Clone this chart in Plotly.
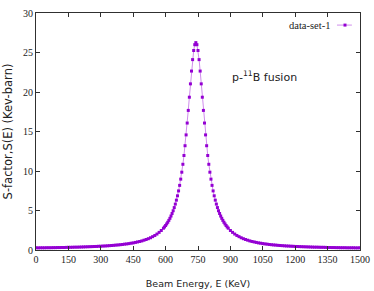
import plotly.graph_objects as go

# Beam energy grid (keV)
energy_left = list(range(0, 591, 10))
energy_peak = list(range(595, 886, 5))
energy_right = list(range(890, 1501, 10))

# S-factor values (keV-barn)
s_left = [0.27, 0.27, 0.28, 0.28, 0.28, 0.29, 0.29, 0.29, 0.30, 0.30,
          0.31, 0.31, 0.32, 0.32, 0.33, 0.34, 0.34, 0.35, 0.36, 0.36,
          0.37, 0.38, 0.39, 0.40, 0.41, 0.42, 0.43, 0.44, 0.45, 0.47,
          0.48, 0.50, 0.51, 0.53, 0.55, 0.57, 0.59, 0.62, 0.64, 0.67,
          0.70, 0.74, 0.77, 0.81, 0.86, 0.90, 0.96, 1.02, 1.08, 1.15,
          1.24, 1.33, 1.43, 1.55, 1.69, 1.84, 2.02, 2.23, 2.47, 2.76]
s_peak = [2.92, 3.10, 3.30, 3.51, 3.75, 4.01, 4.30, 4.62, 4.97, 5.37,
          5.81, 6.31, 6.86, 7.48, 8.18, 8.97, 9.85, 10.85, 11.96, 13.20,
          14.57, 16.07, 17.67, 19.34, 21.03, 22.65, 24.10, 25.25, 25.99, 26.25,
          25.99, 25.25, 24.10, 22.65, 21.03, 19.34, 17.67, 16.07, 14.57, 13.20,
          11.96, 10.85, 9.85, 8.97, 8.18, 7.48, 6.86, 6.31, 5.81, 5.37,
          4.97, 4.62, 4.30, 4.01, 3.75, 3.51, 3.30, 3.10, 2.92]
s_right = [2.76, 2.47, 2.23, 2.02, 1.84, 1.69, 1.55, 1.43, 1.33, 1.24,
           1.15, 1.08, 1.02, 0.96, 0.90, 0.86, 0.81, 0.77, 0.74, 0.70,
           0.67, 0.64, 0.62, 0.59, 0.57, 0.55, 0.53, 0.51, 0.50, 0.48,
           0.47, 0.45, 0.44, 0.43, 0.42, 0.41, 0.40, 0.39, 0.38, 0.37,
           0.36, 0.36, 0.35, 0.34, 0.34, 0.33, 0.32, 0.32, 0.31, 0.31,
           0.30, 0.30, 0.29, 0.29, 0.29, 0.28, 0.28, 0.28, 0.28, 0.27,
           0.27, 0.27]

energy = energy_left + energy_peak + energy_right
s_factor = s_left + s_peak + s_right

x_ticks = [0, 150, 300, 450, 600, 750, 900, 1050, 1200, 1350, 1500]
y_ticks = [0, 5, 10, 15, 20, 25, 30]

series_name = "data-set-1"
note_text = "p-<sup>11</sup>B fusion"
x_title = "Beam Energy, E (KeV)"
y_title = "S-factor,S(E) (Kev-barn)"

PURPLE = "#9400D3"
AXIS = "#303030"

fig = go.Figure()
fig.add_trace(go.Scatter(
    x=energy, y=s_factor, mode="lines+markers", name=series_name,
    line=dict(color="rgba(148,0,211,0.45)", width=1),
    marker=dict(symbol="square", size=3, color=PURPLE, line=dict(width=0)),
    showlegend=False,
))

tickfont = dict(family="Liberation Serif", size=10, color="#222")
fig.update_xaxes(
    range=[0, 1500], tickvals=x_ticks, ticks="inside", ticklen=4, tickwidth=1,
    tickcolor=AXIS, showline=True, linecolor=AXIS, linewidth=1, mirror="ticks",
    showgrid=False, zeroline=False, tickfont=tickfont, automargin=False,
    title=dict(text=x_title, font=dict(family="DejaVu Sans", size=9.5, color="#222"), standoff=16),
)
fig.update_yaxes(
    range=[0, 30], tickvals=y_ticks, ticks="inside", ticklen=4, tickwidth=1,
    tickcolor=AXIS, showline=True, linecolor=AXIS, linewidth=1, mirror="ticks",
    showgrid=False, zeroline=False, tickfont=tickfont, automargin=False,
    title=dict(text=y_title, font=dict(family="DejaVu Sans", size=11.5, color="#222"), standoff=7),
)

# gnuplot-style key: text followed by the line/point sample
fig.add_annotation(x=0.9136, y=0.949, xref="paper", yref="paper", text=series_name,
                   showarrow=False, xanchor="right", yanchor="middle",
                   font=dict(family="Liberation Serif", size=10.5, color="#222"))
fig.add_shape(type="line", xref="paper", yref="paper", x0=0.929, x1=0.975, y0=0.949, y1=0.949,
              line=dict(color="rgba(148,0,211,0.45)", width=1))
fig.add_shape(type="rect", xref="paper", yref="paper", x0=0.9491, x1=0.9583, y0=0.9427, y1=0.9553,
              line=dict(width=0), fillcolor=PURPLE)

fig.add_annotation(x=0.599, y=0.73, xref="paper", yref="paper", text=note_text,
                   showarrow=False, xanchor="left", yanchor="middle",
                   font=dict(family="DejaVu Sans", size=11, color="#222"))

fig.update_layout(
    width=374, height=291, margin=dict(l=36, r=14, t=13, b=41, autoexpand=False),
    paper_bgcolor="white", plot_bgcolor="white",
)
fig.write_html("out.html", config={"displayModeBar": False},
               post_script="document.body.style.margin='0';")
